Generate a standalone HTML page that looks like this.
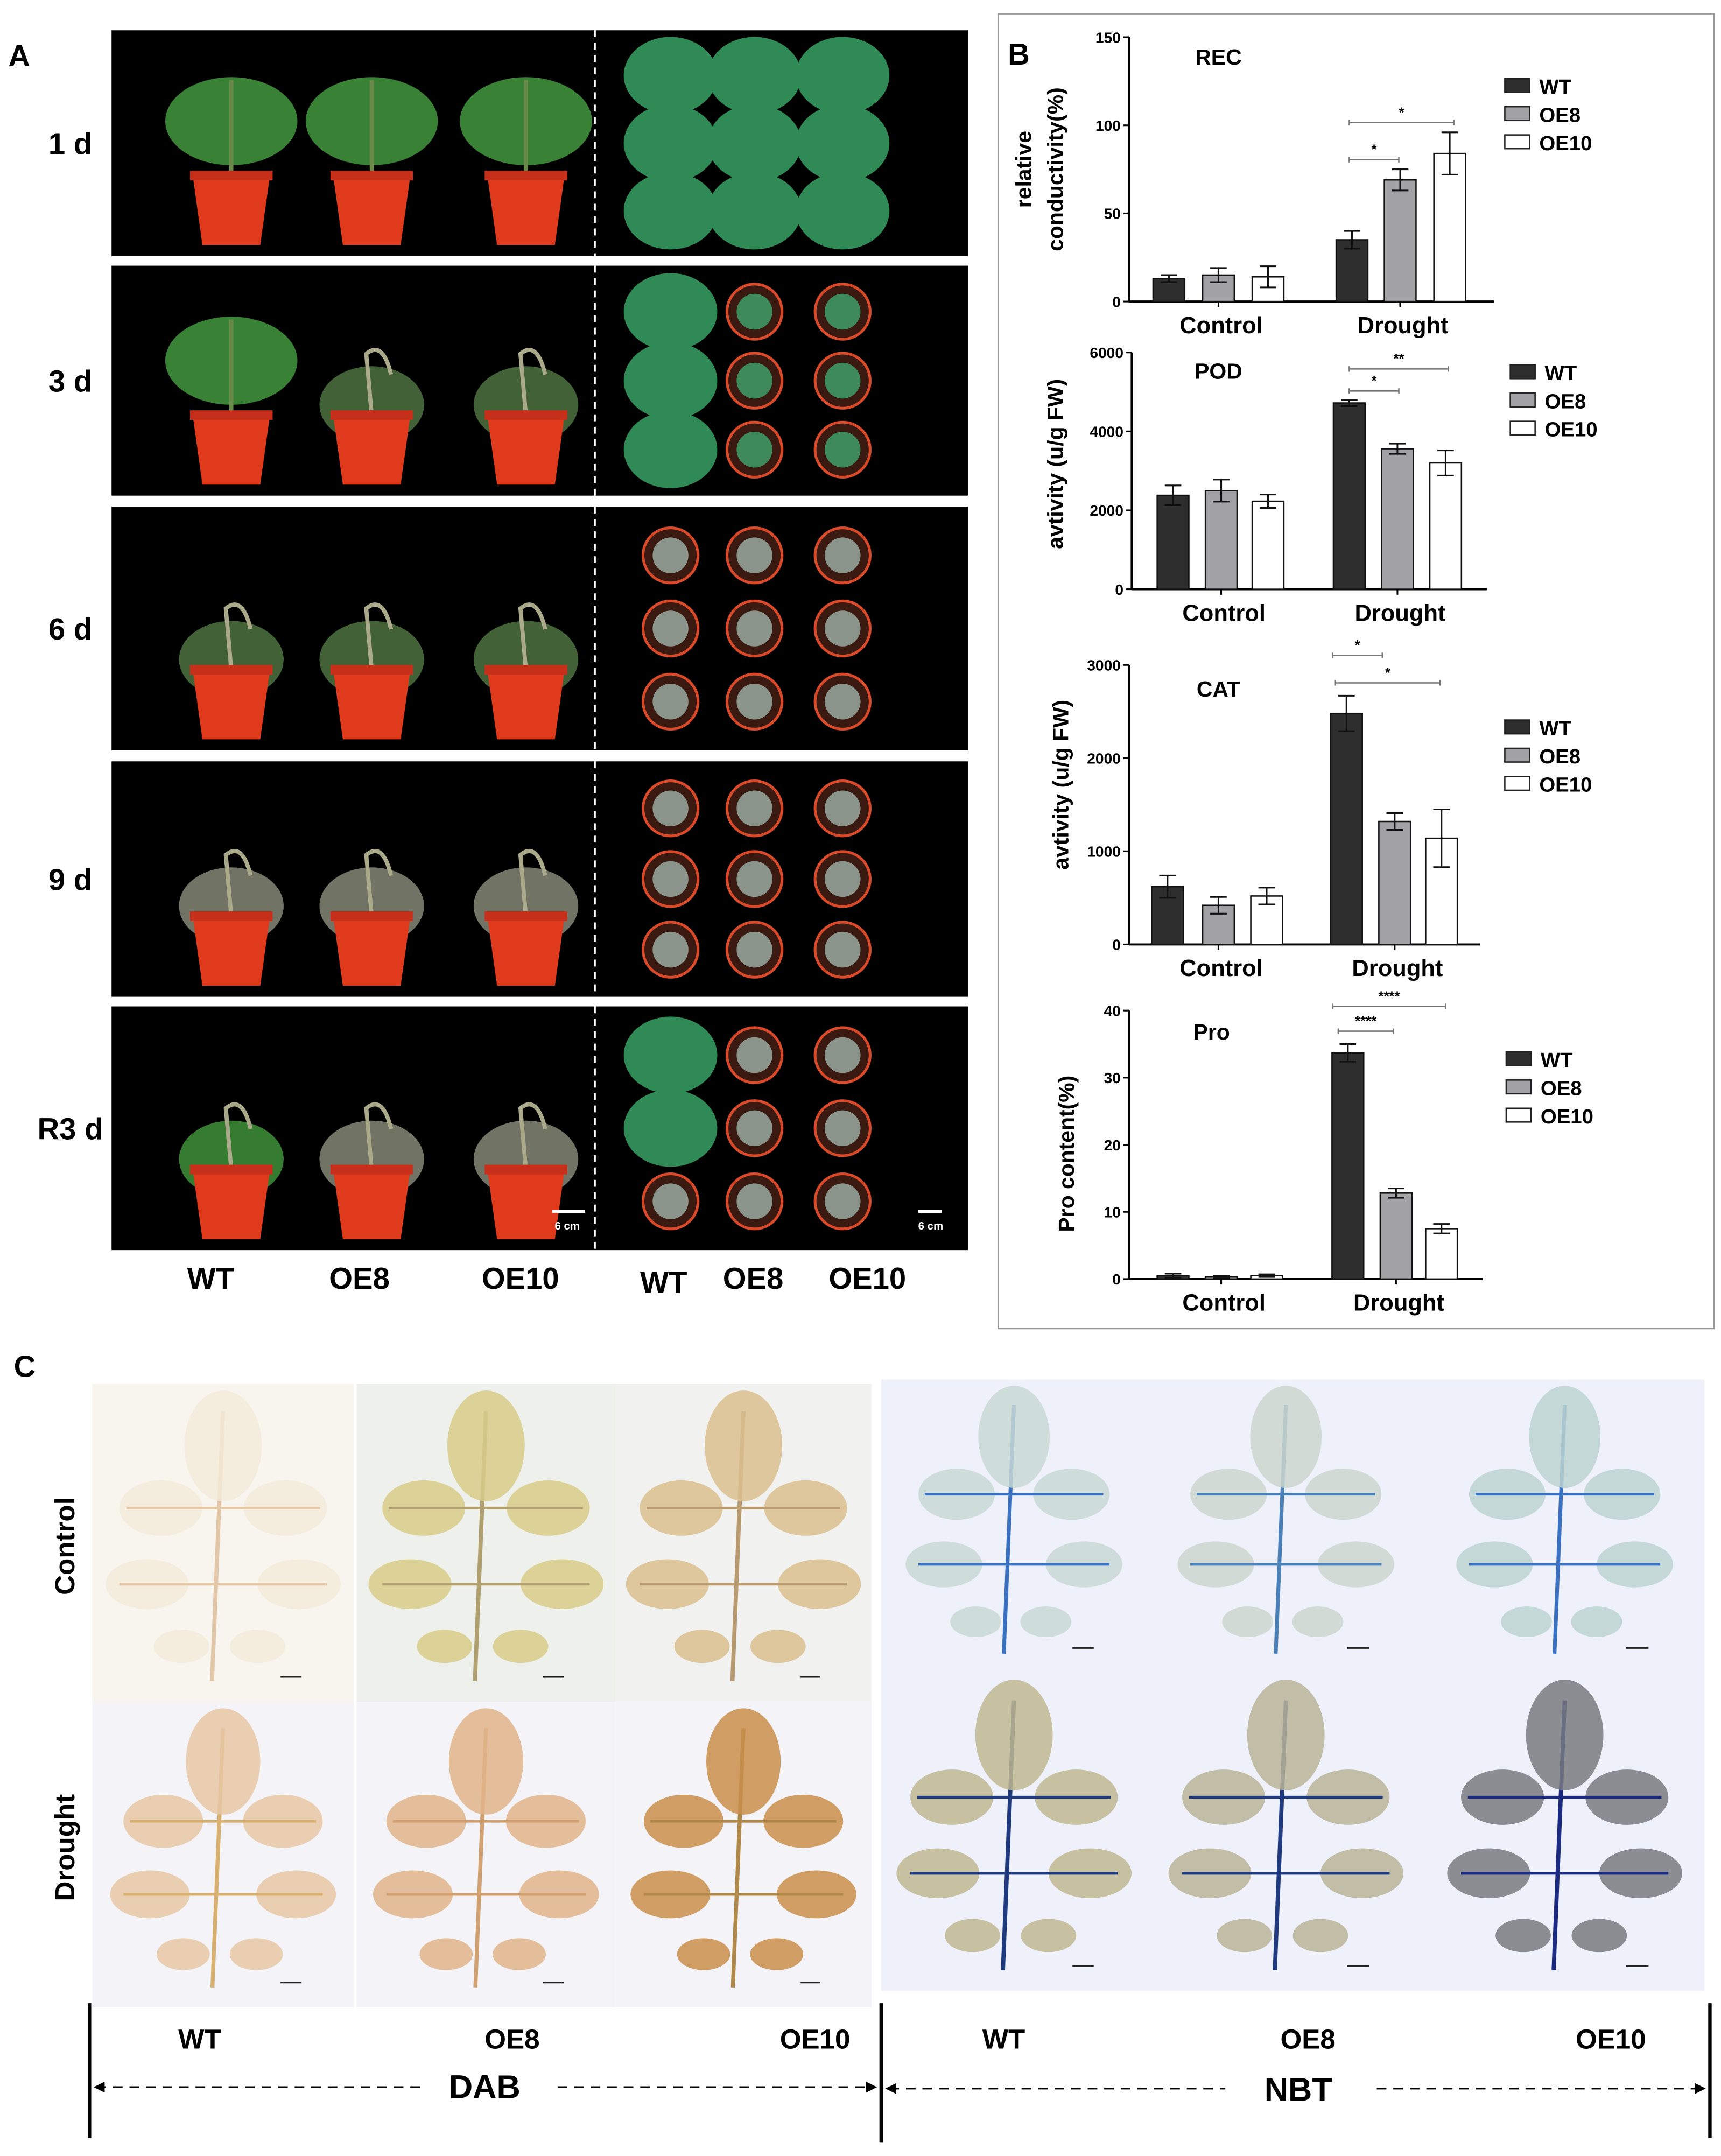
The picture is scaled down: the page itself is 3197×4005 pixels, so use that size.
<!DOCTYPE html>
<html><head><meta charset="utf-8"><style>
html,body{margin:0;padding:0;background:#fff}
svg{display:block}
text{font-family:"Liberation Sans",Arial,sans-serif;font-weight:bold}
</style></head><body>
<svg id="fig" width="3197" height="4005" viewBox="0 0 1250 1566" xmlns="http://www.w3.org/2000/svg">
<rect x="0" y="0" width="1250" height="1566" fill="#fff"/>
<g id="panelA"></g>
<g id="panelB"></g>
<g id="panelC"></g>
</svg>
<script>
// ---------- Chart data ----------
const groups = ["Control", "Drought"];
const genotypes = ["WT", "OE8", "OE10"];
const recValues = [[13, 15, 14], [35, 69, 84]];
const recErrors = [[2, 4, 6], [5, 6, 12]];
const recTicks = [0, 50, 100, 150];
const podValues = [[2380, 2500, 2230], [4720, 3560, 3200]];
const podErrors = [[250, 280, 170], [80, 130, 320]];
const podTicks = [0, 2000, 4000, 6000];
const catValues = [[620, 420, 520], [2480, 1320, 1140]];
const catErrors = [[120, 90, 90], [190, 90, 310]];
const catTicks = [0, 1000, 2000, 3000];
const proValues = [[0.5, 0.3, 0.5], [33.7, 12.8, 7.5]];
const proErrors = [[0.3, 0.2, 0.2], [1.3, 0.7, 0.7]];
const proTicks = [0, 10, 20, 30, 40];

const NS = "http://www.w3.org/2000/svg";
function el(parent, tag, attrs, text) {
  const e = document.createElementNS(NS, tag);
  for (const k in attrs) e.setAttribute(k, attrs[k]);
  if (text !== undefined) e.textContent = text;
  parent.appendChild(e);
  return e;
}
const fills = ["#2e2e2e", "#a3a3a6", "#ffffff"];

// ---------- Panel B ----------
const B = document.getElementById("panelB");
const box = el(B, "rect", {x: 725, y: 10, width: 520, height: 955, fill: "none", stroke: "#999", "stroke-width": 1});


const bl = el(B, "text", {x: 732, y: 47, "font-size": 22}, "B");



function chart(cfg) {
  const g = el(B, "g", {});
  
  
  const maxV = cfg.ticks[cfg.ticks.length - 1];
  const yS = v => cfg.y0 - (v / maxV) * (cfg.y0 - cfg.yTop);
  // axes
  const ya = el(g, "line", {x1: cfg.ax, y1: cfg.yTop, x2: cfg.ax, y2: cfg.y0, stroke: "#000", "stroke-width": 1.5});
  
  
  const xa = el(g, "line", {x1: cfg.ax, y1: cfg.y0, x2: cfg.axEnd, y2: cfg.y0, stroke: "#000", "stroke-width": 1.5});
  
  
  cfg.ticks.forEach(t => {
    const yy = yS(t);
    el(g, "line", {x1: cfg.ax - 4, y1: yy, x2: cfg.ax, y2: yy, stroke: "#000", "stroke-width": 1.2});
    const tl = el(g, "text", {x: cfg.ax - 6, y: yy + 4, "font-size": 11, "text-anchor": "end"}, String(t));
    
    
  });
  // bars
  cfg.values.forEach((grp, gi) => {
    grp.forEach((v, bi) => {
      const cx = cfg.centers[gi][bi];
      const top = yS(v);
      const r = el(g, "rect", {x: cx - 11.5, y: top, width: 23, height: Math.max(cfg.y0 - top, 0.5), fill: fills[bi], stroke: "#111", "stroke-width": 1});
      
      
      const e = cfg.errors[gi][bi];
      const eg = el(g, "g", {stroke: "#111", "stroke-width": 1.2});
      
      
      el(eg, "line", {x1: cx, y1: yS(v + e), x2: cx, y2: yS(Math.max(v - e, 0))});
      el(eg, "line", {x1: cx - 6, y1: yS(v + e), x2: cx + 6, y2: yS(v + e)});
      el(eg, "line", {x1: cx - 6, y1: yS(Math.max(v - e, 0)), x2: cx + 6, y2: yS(Math.max(v - e, 0))});
    });
    const gc = cfg.centers[gi][1];
    el(g, "line", {x1: gc, y1: cfg.y0, x2: gc, y2: cfg.y0 + 4, stroke: "#000", "stroke-width": 1.2});
    const cl = el(g, "text", {x: gc + 2, y: cfg.y0 + 23, "font-size": 17, "text-anchor": "middle"}, groups[gi]);
    
    
  });
  const ti = el(g, "text", {x: cfg.titleX, y: cfg.titleY, "font-size": 16, "text-anchor": "middle"}, cfg.title);
  
  
  // y label
  cfg.ylabel.forEach((line, i) => {
    const lx = cfg.ylx[i];
    const yl = el(g, "text", {x: lx, y: cfg.yly, "font-size": 16, "text-anchor": "middle", transform: "rotate(-90 " + lx + " " + cfg.yly + ")"}, line);
    
    
  });
  // legend
  genotypes.forEach((n, i) => {
    const ly = cfg.legY + i * 20.5;
    const le = el(g, "g", {});
    
    
    el(le, "rect", {x: cfg.legX, y: ly - 5, width: 18, height: 10, fill: fills[i], stroke: "#222", "stroke-width": 1});
    el(le, "text", {x: cfg.legX + 25, y: ly + 6, "font-size": 15}, n);
  });
  // significance
  cfg.sig.forEach(s => {
    const sg = el(g, "g", {});
    
    
    el(sg, "line", {x1: s[0], y1: s[2], x2: s[1], y2: s[2], stroke: "#777", "stroke-width": 1});
    el(sg, "line", {x1: s[0], y1: s[2] - 2, x2: s[0], y2: s[2] + 2, stroke: "#777", "stroke-width": 1});
    el(sg, "line", {x1: s[1], y1: s[2] - 2, x2: s[1], y2: s[2] + 2, stroke: "#777", "stroke-width": 1});
    el(sg, "text", {x: (s[0] + s[1]) / 2, y: s[2] - 4, "font-size": 10, "font-weight": "normal", "text-anchor": "middle"}, s[3]);
  });
}
chart({name: "rec", title: "REC", titleX: 885, titleY: 47, ticks: recTicks, values: recValues, errors: recErrors,
  ax: 820, axEnd: 1085, yTop: 27, y0: 219, centers: [[849, 885, 921], [982, 1017, 1053]],
  ylabel: ["relative", "conductivity(%)"], ylx: [749, 772], yly: 123, legX: 1093, legY: 62,
  sig: [[980, 1056, 89, "*"], [980, 1016, 116, "*"]]});
chart({name: "pod", title: "POD", titleX: 885, titleY: 275, ticks: podTicks, values: podValues, errors: podErrors,
  ax: 822, axEnd: 1080, yTop: 256, y0: 428, centers: [[852, 887, 921], [980, 1015, 1050]],
  ylabel: ["avtivity (u/g FW)"], ylx: [772], yly: 337, legX: 1097, legY: 270,
  sig: [[980, 1052, 268, "**"], [980, 1016, 284, "*"]]});
chart({name: "cat", title: "CAT", titleX: 885, titleY: 506, ticks: catTicks, values: catValues, errors: catErrors,
  ax: 820, axEnd: 1075, yTop: 483, y0: 686, centers: [[848, 885, 920], [978, 1013, 1047]],
  ylabel: ["avtivity (u/g FW)"], ylx: [776], yly: 570, legX: 1093, legY: 528,
  sig: [[968, 1004, 476, "*"], [970, 1046, 496, "*"]]});
chart({name: "pro", title: "Pro", titleX: 880, titleY: 755, ticks: proTicks, values: proValues, errors: proErrors,
  ax: 820, axEnd: 1077, yTop: 734, y0: 929, centers: [[852, 887, 920], [979, 1014, 1047]],
  ylabel: ["Pro content(%)"], ylx: [780], yly: 838, legX: 1094, legY: 769,
  sig: [[968, 1050, 731, "****"], [972, 1012, 749, "****"]]});

// ---------- Panel A ----------
const A = document.getElementById("panelA");
const al = el(A, "text", {x: 6, y: 48, "font-size": 22}, "A");


const rows = [[22, 186, "1 d", 0], [193, 360, "3 d", 1], [368, 545, "6 d", 2], [553, 724, "9 d", 3], [731, 908, "R3 d", 4]];
const potX = [168, 270, 382];
const topX = [487, 548, 612];
rows.forEach((r, ri) => {
  const [y1, y2, lab, stage] = r;
  const rg = el(A, "g", {});
  
  
  el(rg, "rect", {x: 81, y: y1, width: 622, height: y2 - y1, fill: "#000"});
  el(rg, "line", {x1: 432, y1: y1, x2: 432, y2: y2, stroke: "#fff", "stroke-width": 1.5, "stroke-dasharray": "5,4"});
  const tl = el(A, "text", {x: 51, y: (y1 + y2) / 2 + 8, "font-size": 22, "text-anchor": "middle"}, lab);
  
  
  // side view plants
  potX.forEach((px, pi) => {
    const pb = y2 - 8, ph = 50, pw = 56;
    const wilt = stage >= 2 || (stage === 1 && pi > 0) || (stage === 4 && pi > 0);
    const green = stage === 0 || (stage === 1 && pi === 0) ? "#3f8f3a" : (stage === 4 && pi === 0 ? "#3c8a35" : "#4a6b3c");
    if (!wilt) {
      el(rg, "ellipse", {cx: px, cy: pb - ph - 40, rx: 48, ry: 32, fill: green, opacity: 0.9});
      el(rg, "line", {x1: px, y1: pb - ph, x2: px, y2: pb - ph - 70, stroke: "#6a8a4a", "stroke-width": 3});
    } else {
      el(rg, "ellipse", {cx: px, cy: pb - ph - 8, rx: 38, ry: 28, fill: stage >= 3 && !(stage === 4 && pi === 0) ? "#7d8070" : green, opacity: 0.9});
      el(rg, "path", {d: `M${px} ${pb - ph} L${px - 4} ${pb - ph - 45} Q${px + 8} ${pb - ph - 55} ${px + 14} ${pb - ph - 30}`, stroke: "#aaa98a", "stroke-width": 3, fill: "none"});
    }
    el(rg, "path", {d: `M${px - pw / 2} ${pb - ph} L${px + pw / 2} ${pb - ph} L${px + pw / 2 - 7} ${pb} L${px - pw / 2 + 7} ${pb} Z`, fill: "#e03a1c"});
    el(rg, "rect", {x: px - pw / 2 - 2, y: pb - ph - 4, width: pw + 4, height: 7, fill: "#c6301a"});
  });
  // top view
  for (let rr = 0; rr < 3; rr++) {
    topX.forEach((tx, ti) => {
      const ty = y1 + (y2 - y1) * (0.2 + rr * 0.3);
      const lush = stage === 0 || (stage === 1 && ti === 0) || (stage === 4 && ti === 0 && rr < 2);
      if (lush) {
        el(rg, "ellipse", {cx: tx, cy: ty, rx: 34, ry: 28, fill: "#2f8a55"});
      } else {
        el(rg, "circle", {cx: tx, cy: ty, r: 20, fill: "#3a1a10", stroke: "#d84a2a", "stroke-width": 2});
        el(rg, "circle", {cx: tx, cy: ty, r: 13, fill: stage === 1 ? "#3f8a5a" : "#8a948a"});
      }
    });
  }
  if (ri === 4) {
    el(rg, "line", {x1: 401, y1: 880, x2: 425, y2: 880, stroke: "#fff", "stroke-width": 2});
    el(rg, "text", {x: 412, y: 893, "font-size": 8, "font-weight": "normal", fill: "#fff", "text-anchor": "middle"}, "6 cm");
    el(rg, "line", {x1: 667, y1: 880, x2: 684, y2: 880, stroke: "#fff", "stroke-width": 2});
    el(rg, "text", {x: 676, y: 893, "font-size": 8, "font-weight": "normal", fill: "#fff", "text-anchor": "middle"}, "6 cm");
  }
});
[["WT", 153, 936], ["OE8", 261, 936], ["OE10", 378, 936], ["WT", 482, 939], ["OE8", 547, 936], ["OE10", 630, 936]].forEach(l => {
  const t = el(A, "text", {x: l[1], y: l[2], "font-size": 22, "text-anchor": "middle"}, l[0]);
  
  
});

// ---------- Panel C ----------
const C = document.getElementById("panelC");
const cl = el(C, "text", {x: 10, y: 1000, "font-size": 22}, "C");


function leaf(g, cx, cy, s, fill, vein) {
  el(g, "line", {x1: cx, y1: cy - 95 * s, x2: cx - 8 * s, y2: cy + 100 * s, stroke: vein, "stroke-width": 3 * s});
  const parts = [[0, -70, 28, 40], [-45, -25, 30, 20], [45, -25, 30, 20], [-55, 30, 30, 18], [55, 30, 30, 18], [-30, 75, 20, 12], [25, 75, 20, 12]];
  parts.forEach(p => el(g, "ellipse", {cx: cx + p[0] * s, cy: cy + p[1] * s, rx: p[2] * s, ry: p[3] * s, fill: fill, opacity: 0.85}));
  el(g, "line", {x1: cx - 70 * s, y1: cy - 25 * s, x2: cx + 70 * s, y2: cy - 25 * s, stroke: vein, "stroke-width": 2 * s});
  el(g, "line", {x1: cx - 75 * s, y1: cy + 30 * s, x2: cx + 75 * s, y2: cy + 30 * s, stroke: vein, "stroke-width": 2 * s});
}
const cells = [
  [67, 1005, 190, 231, "#f7f5ee", "#f3ead8", "#e2c6a8", "dab-control-wt"],
  [259, 1005, 188, 231, "#eef0ec", "#d8cc8a", "#b0a070", "dab-control-oe8"],
  [447, 1005, 186, 231, "#f1f1f0", "#dcc08e", "#b89a70", "dab-control-oe10"],
  [67, 1236, 190, 222, "#f4f4f8", "#e6c7a4", "#d8b070", "dab-drought-wt"],
  [259, 1236, 188, 222, "#f4f4f8", "#e0b48a", "#d0a070", "dab-drought-oe8"],
  [447, 1236, 186, 222, "#f4f4f8", "#c98e4a", "#b0884a", "dab-drought-oe10"],
  [640, 1002, 193, 213, "#eef0fa", "#c8d8d4", "#3a70c0", "nbt-control-wt"],
  [833, 1002, 202, 213, "#eef0fa", "#cbd6cc", "#4a80b8", "nbt-control-oe8"],
  [1035, 1002, 203, 213, "#eef0fa", "#bcd4d0", "#3a70c0", "nbt-control-oe10"],
  [640, 1215, 193, 231, "#eef0fa", "#c0b890", "#203a80", "nbt-drought-wt"],
  [833, 1215, 202, 231, "#eef0fa", "#b8b498", "#203a80", "nbt-drought-oe8"],
  [1035, 1215, 203, 231, "#eef0fa", "#7a7a80", "#1a2a80", "nbt-drought-oe10"]
];
cells.forEach(c => {
  const g = el(C, "g", {});
  
  
  el(g, "rect", {x: c[0], y: c[1], width: c[2], height: c[3], fill: c[4]});
  leaf(g, c[0] + c[2] / 2, c[1] + c[3] / 2, c[3] / 230, c[5], c[6]);
  el(g, "line", {x1: c[0] + c[2] * 0.72, y1: c[1] + c[3] - 18, x2: c[0] + c[2] * 0.8, y2: c[1] + c[3] - 18, stroke: "#222", "stroke-width": 1.2});
});
const rc = el(C, "text", {x: 54, y: 1123, "font-size": 20, "text-anchor": "middle", transform: "rotate(-90 54 1123)"}, "Control");


const rd = el(C, "text", {x: 54, y: 1342, "font-size": 20, "text-anchor": "middle", transform: "rotate(-90 54 1342)"}, "Drought");


[[65, 1455, 1553], [640, 1455, 1556], [1242, 1455, 1553]].forEach(v => el(C, "line", {x1: v[0], y1: v[1], x2: v[0], y2: v[2], stroke: "#000", "stroke-width": 2.5}));
[["WT", 145], ["OE8", 372], ["OE10", 592], ["WT", 729], ["OE8", 950], ["OE10", 1170]].forEach(l => {
  const t = el(C, "text", {x: l[1], y: 1488, "font-size": 20, "text-anchor": "middle"}, l[0]);
  
  
});
function arrowLine(x1, x2, y, dir) {
  el(C, "line", {x1: x1, y1: y, x2: x2, y2: y, stroke: "#000", "stroke-width": 1.3, "stroke-dasharray": "7,5"});
}
arrowLine(70, 305, 1516); arrowLine(405, 634, 1516); arrowLine(646, 890, 1517); arrowLine(1000, 1236, 1517);
[[68, 1516, 1], [637, 1516, -1], [643, 1517, 1], [1239, 1517, -1]].forEach(a => {
  el(C, "path", {d: `M${a[0]} ${a[1]} l${8 * a[2]} -4 l0 8 Z`, fill: "#000"});
});
const dab = el(C, "text", {x: 352, y: 1524, "font-size": 24, "text-anchor": "middle"}, "DAB");


const nbt = el(C, "text", {x: 943, y: 1526, "font-size": 24, "text-anchor": "middle"}, "NBT");


</script>
</body></html>
